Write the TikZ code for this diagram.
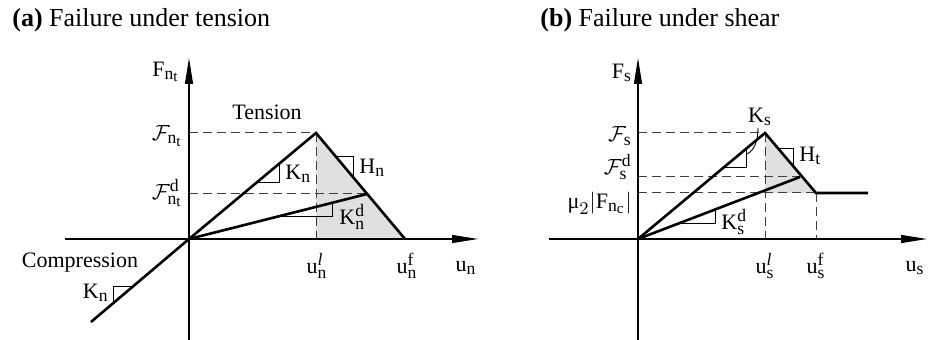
\documentclass[tikz,border=0pt]{standalone}
\usepackage{amsmath}
\usepackage{fontspec}
\setmainfont{Liberation Serif}
\DeclareMathSizes{11}{11}{8.8}{7.5}
\usetikzlibrary{arrows.meta,positioning,calc}

\begin{document}
\begin{tikzpicture}[x=0.5pt, y=-0.5pt, every node/.style={font=\fontsize{11}{13}\selectfont, inner sep=1pt}]
\tikzset{axis/.style={line width=0.6pt, -{Triangle[length=13pt,width=4pt]}}}
\tikzset{law/.style={line width=1.3pt, line join=miter}}
\tikzset{guide/.style={line width=0.5pt, dash pattern=on 4.5pt off 2.5pt, black!75}}
\tikzset{slope/.style={line width=0.45pt}}
\tikzset{zone/.style={fill=black!12}}
\tikzset{title/.style={font=\fontsize{13}{15}\selectfont, anchor=base west, inner sep=0pt}}
\useasboundingbox (0,0) rectangle (933,340);

% (a) failure under tension
\coordinate (oa) at (189,239);
\coordinate (pa) at (316,133);
\coordinate (da) at (367,194);
\coordinate (fa) at (405,239);
\coordinate (ca) at (91,322);
\coordinate (la) at (316,239);
\coordinate (xa0) at (65,239);
\coordinate (xa1) at (478,239);
\coordinate (ya0) at (189,340);
\coordinate (ya1) at (189,58);
\fill[zone] (pa) -- (fa) -- (la) -- cycle;
\draw[guide] (oa |- pa) -- (pa);
\draw[guide] (oa |- da) -- (da);
\draw[guide] (pa) -- (la);
\draw[axis] (xa0) -- (xa1);
\draw[axis] (ya0) -- (ya1);
\draw[law] (ca) -- (oa) -- (pa) -- (fa);
\draw[law] (oa) -- (da);
\draw[slope] (258,182) -| (279,164);
\draw[slope] (335,156) -- (353,156) -- (353,177);
\draw[slope] (282,216) -| (332,203);
\draw[slope] (134,286) -- (113,286) -- (113,303);
\node[title] (ta) at (12,27) {\textbf{(a)} Failure under tension};
\node (fya) at (166,72) {$\mathrm{F}_{\mathrm{n}_\mathrm{t}}$};
\node (uxa) at (466,268) {$\mathrm{u}_\mathrm{n}$};
\node (tens) at (267,112) {Tension};
\node (comp) at (80,263) {Compression};
\node[anchor=east] (fta) at (185,136) {$\mathcal{F}_{\mathrm{n}_\mathrm{t}}$};
\node[anchor=east] (fda) at (185,193) {$\mathcal{F}_{\mathrm{n}_\mathrm{t}}^{\mathrm{d}}$};
\node (ula) at (317,266) {$\mathrm{u}_\mathrm{n}^{\mathit{l}}$};
\node (ufa) at (407,266) {$\mathrm{u}_\mathrm{n}^{\mathrm{f}}$};
\node[anchor=west] (kna) at (283,174) {$\mathrm{K}_\mathrm{n}$};
\node[anchor=west] (hna) at (357,168) {$\mathrm{H}_\mathrm{n}$};
\node[anchor=west] (kda) at (337,217) {$\mathrm{K}_\mathrm{n}^{\mathrm{d}}$};
\node[anchor=east] (kca) at (111,293) {$\mathrm{K}_\mathrm{n}$};

% (b) failure under shear
\coordinate (ob) at (638,239);
\coordinate (pb) at (765,133);
\coordinate (db) at (800,177);
\coordinate (fb) at (816,193);
\coordinate (rb) at (868,193);
\coordinate (lb) at (765,239);
\coordinate (gb) at (816,239);
\coordinate (xb0) at (549,239);
\coordinate (xb1) at (927,239);
\coordinate (yb0) at (638,340);
\coordinate (yb1) at (638,58);
\fill[zone] (pb) -- (fb) -- (pb |- fb) -- cycle;
\draw[guide] (ob |- pb) -- (pb);
\draw[guide] (ob |- db) -- (db);
\draw[guide] (ob |- fb) -- (fb);
\draw[guide] (pb) -- (lb);
\draw[guide] (fb) -- (gb);
\draw[axis] (xb0) -- (xb1);
\draw[axis] (yb0) -- (yb1);
\draw[law] (ob) -- (pb) -- (fb) -- (rb);
\draw[law] (ob) -- (db);
\draw[slope] (725,167) -| (746,150);
\draw[slope] (747,154) .. controls (755,150) and (758,140) .. (758,128);
\draw[slope] (778,148) -- (793,148) -- (793,166);
\draw[slope] (680,223) -| (715,210);
\node[title] (tb) at (540,27) {\textbf{(b)} Failure under shear};
\node (fyb) at (622,73) {$\mathrm{F}_\mathrm{s}$};
\node (uxb) at (915,268) {$\mathrm{u}_\mathrm{s}$};
\node[anchor=east] (ftb) at (634,136) {$\mathcal{F}_\mathrm{s}$};
\node[anchor=east] (fdb) at (634,167) {$\mathcal{F}_\mathrm{s}^{\mathrm{d}}$};
\node[anchor=east] (mub) at (634,203) {$\text{μ}_2|\mathrm{F}_{\mathrm{n}_\mathrm{c}}|$};
\node (ksb) at (760,117) {$\mathrm{K}_\mathrm{s}$};
\node[anchor=west] (htb) at (797,156) {$\mathrm{H}_\mathrm{t}$};
\node[anchor=west] (kdb) at (719,222) {$\mathrm{K}_\mathrm{s}^{\mathrm{d}}$};
\node (ulb) at (765,266) {$\mathrm{u}_\mathrm{s}^{\mathit{l}}$};
\node (ufb) at (816,266) {$\mathrm{u}_\mathrm{s}^{\mathrm{f}}$};
\end{tikzpicture}
\end{document}
